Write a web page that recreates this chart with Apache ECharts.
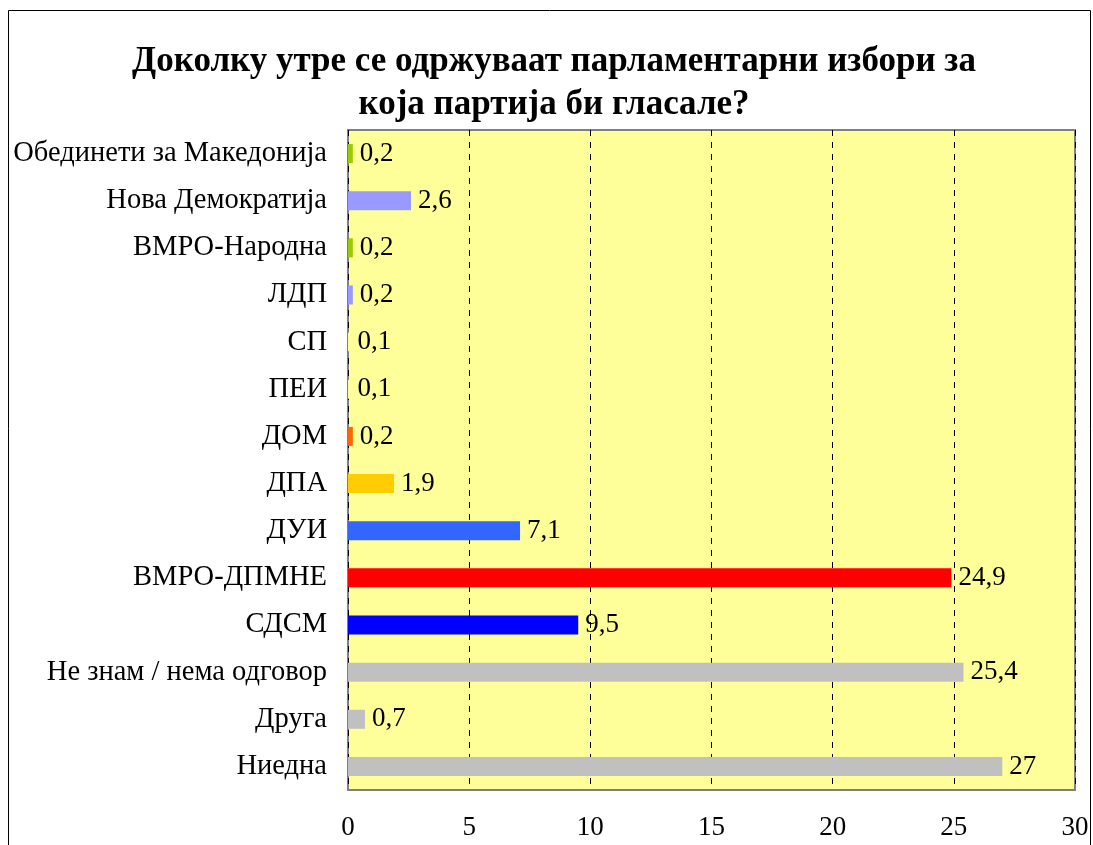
<!DOCTYPE html>
<html>
<head>
<meta charset="utf-8">
<script src="https://cdn.jsdelivr.net/npm/echarts@6/dist/echarts.min.js"></script>
<style>
html,body{margin:0;padding:0;background:#fff;}
#c{width:1093px;height:845px;}
</style>
</head>
<body>
<div id="c"></div>
<script>
const categories = ['Обединети за Македонија','Нова Демократија','ВМРО-Народна','ЛДП','СП','ПЕИ','ДОМ','ДПА','ДУИ','ВМРО-ДПМНЕ','СДСМ','Не знам / нема одговор','Друга','Ниедна'];
const values = [0.2, 2.6, 0.2, 0.2, 0.1, 0.1, 0.2, 1.9, 7.1, 24.9, 9.5, 25.4, 0.7, 27];
const barColors = ['#99CC00','#9999FF','#99CC00','#9999FF','#FFFF99','#FFFF99','#FF6600','#FFCC00','#3366FF','#FF0000','#0000FF','#C0C0C0','#C0C0C0','#C0C0C0'];
const xTicks = [0,5,10,15,20,25,30];

const font = '"Liberation Serif","Times New Roman",serif';
const chart = echarts.init(document.getElementById('c'), null, {renderer:'canvas'});
chart.setOption({
  backgroundColor:'#fff',
  animation:false,
  title:{
    text:'Доколку утре се одржуваат парламентарни избори за\nкоја партија би гласале?',
    left:549, top:35, textAlign:'center',
    textStyle:{fontFamily:font, fontSize:35, fontWeight:'bold', color:'#000', lineHeight:43}
  },
  graphic:[{type:'rect', shape:{x:8.5,y:10.5,width:1082,height:860}, style:{fill:null, stroke:'#000', lineWidth:1}, z:-1}],
  grid:{left:348, top:130, right:18, bottom:55, show:true, backgroundColor:'#FFFF99', borderColor:'#808080', borderWidth:2, containLabel:false},
  xAxis:{
    type:'value', min:xTicks[0], max:xTicks[xTicks.length-1], interval:5,
    axisLine:{show:false}, axisTick:{show:false},
    axisLabel:{fontFamily:font, fontSize:27, color:'#000', margin:24},
    splitLine:{show:true, lineStyle:{color:'#000', type:[6,6], width:1}}
  },
  yAxis:{
    type:'category', data:categories, inverse:true,
    axisLine:{show:false}, axisTick:{show:false},
    axisLabel:{fontFamily:font, fontSize:28.5, color:'#000', margin:21, padding:[4,0,0,0]},
    splitLine:{show:false}
  },
  series:[{
    type:'bar', barWidth:19,
    data: values.map((v,i)=>({value:v, itemStyle:{color:barColors[i]}})),
    label:{show:true, position:'right', distance:7, fontFamily:font, fontSize:27, color:'#000', padding:[4,0,0,0],
      formatter:p=>String(p.value).replace('.',',')}
  }]
});
</script>
</body>
</html>
